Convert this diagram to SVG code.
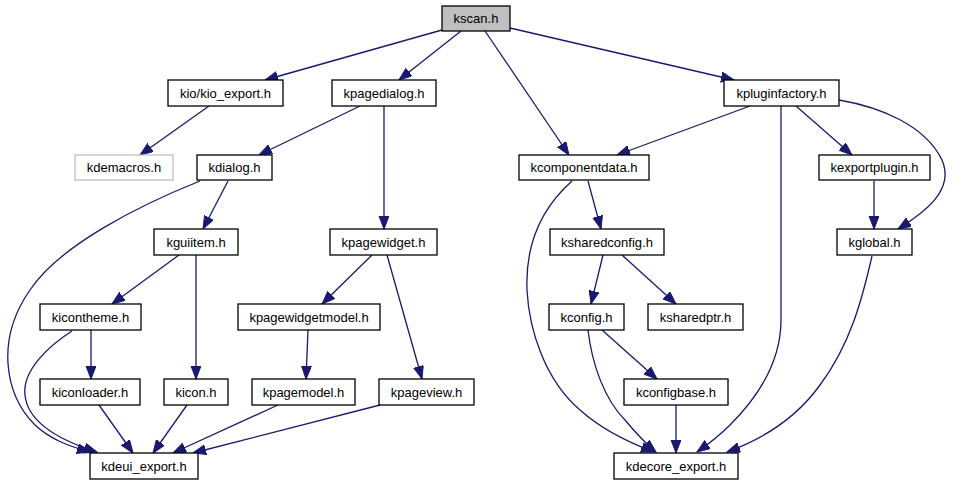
<svg xmlns="http://www.w3.org/2000/svg" width="954" height="485" viewBox="0 0 954 485">
<defs>
<style>
.n rect{fill:#fff;stroke:#000;stroke-width:1.3}
.n text{font-family:"Liberation Sans",Arial,sans-serif;font-size:13px;text-anchor:middle;fill:#000}
#edges path{fill:none;stroke:#191970;stroke-width:1.3;marker-end:url(#ah)}
</style>
<marker id="ah" markerUnits="userSpaceOnUse" markerWidth="14" markerHeight="11" refX="13" refY="5" orient="auto">
<path d="M0,0 L13,5 L0,10 Z" fill="#191970" stroke="#191970" stroke-width="1"/>
</marker>
</defs>
<rect width="954" height="485" fill="#fff"/>
<g id="edges">
<path d="M442,30 L265,80"/>
<path d="M461,31 L399,80"/>
<path d="M485,31 L569,155"/>
<path d="M510,28 L734,80"/>
<path d="M209,106 L140,155"/>
<path d="M360,106 L259,155"/>
<path d="M384,106 L384,229"/>
<path d="M228,181 L203,229"/>
<path d="M200,181 C140,205 60,245 30,290 C-5,340 5,395 35,425 C50,439 68,446 90,452"/>
<path d="M179,255 L112,304"/>
<path d="M196,255 L196,379"/>
<path d="M372,255 L322,304"/>
<path d="M387,255 L422,379"/>
<path d="M91,330 L91,379"/>
<path d="M72,331 C50,345 22,370 25,395 C28,425 65,442 97,452"/>
<path d="M99,405 L133,453"/>
<path d="M187,405 L153,453"/>
<path d="M308,330 L306,379"/>
<path d="M278,405 L173,453"/>
<path d="M380,405 L193,453"/>
<path d="M750,106 L617,155"/>
<path d="M796,106 L852,155"/>
<path d="M839,100 C880,107 925,125 942,160 C955,190 925,212 898,229"/>
<path d="M781,106 L781,320 C781,360 760,395 730,425 C720,435 710,443 697,452"/>
<path d="M588,181 L601,229"/>
<path d="M572,181 C545,205 525,240 527,290 C529,330 545,380 580,410 C600,428 630,443 654,452"/>
<path d="M874,181 L874,229"/>
<path d="M603,255 L591,304"/>
<path d="M622,255 L676,304"/>
<path d="M588,330 C592,365 605,400 625,420 C635,432 645,443 656,452"/>
<path d="M602,330 L657,379"/>
<path d="M676,405 L676,453"/>
<path d="M872,256 C862,300 850,345 820,385 C795,420 760,440 727,452"/>
</g>
<g id="kscan" class="n"><rect x="442" y="6" width="68" height="25" style="fill:#bfbfbf"/><text x="476" y="23">kscan.h</text></g>
<g id="kio_export" class="n"><rect x="168" y="80" width="115" height="26"/><text x="225.5" y="97.5">kio/kio_export.h</text></g>
<g id="kpagedialog" class="n"><rect x="332" y="80" width="104" height="26"/><text x="384" y="97.5">kpagedialog.h</text></g>
<g id="kpluginfactory" class="n"><rect x="724" y="80" width="115" height="26"/><text x="781.5" y="97.5">kpluginfactory.h</text></g>
<g id="kdemacros" class="n"><rect x="75" y="155" width="98" height="25" style="stroke:#bfbfbf"/><text x="124" y="172">kdemacros.h</text></g>
<g id="kdialog" class="n"><rect x="197" y="155" width="75" height="25"/><text x="234.5" y="172">kdialog.h</text></g>
<g id="kcomponentdata" class="n"><rect x="519" y="155" width="130" height="25"/><text x="584" y="172">kcomponentdata.h</text></g>
<g id="kexportplugin" class="n"><rect x="819" y="155" width="111" height="25"/><text x="874.5" y="172">kexportplugin.h</text></g>
<g id="kguiitem" class="n"><rect x="154" y="229" width="84" height="26"/><text x="196" y="246.5">kguiitem.h</text></g>
<g id="kpagewidget" class="n"><rect x="330" y="229" width="107" height="26"/><text x="383.5" y="246.5">kpagewidget.h</text></g>
<g id="ksharedconfig" class="n"><rect x="550" y="229" width="114" height="26"/><text x="607" y="246.5">ksharedconfig.h</text></g>
<g id="kglobal" class="n"><rect x="837" y="229" width="75" height="26"/><text x="874.5" y="246.5">kglobal.h</text></g>
<g id="kicontheme" class="n"><rect x="40" y="304" width="101" height="26"/><text x="90.5" y="321.5">kicontheme.h</text></g>
<g id="kpagewidgetmodel" class="n"><rect x="238" y="304" width="142" height="26"/><text x="309" y="321.5">kpagewidgetmodel.h</text></g>
<g id="kconfig" class="n"><rect x="549" y="304" width="75" height="26"/><text x="586.5" y="321.5">kconfig.h</text></g>
<g id="ksharedptr" class="n"><rect x="648" y="304" width="95" height="26"/><text x="695.5" y="321.5">ksharedptr.h</text></g>
<g id="kiconloader" class="n"><rect x="40" y="379" width="100" height="26"/><text x="90" y="396.5">kiconloader.h</text></g>
<g id="kicon" class="n"><rect x="164" y="379" width="64" height="26"/><text x="196" y="396.5">kicon.h</text></g>
<g id="kpagemodel" class="n"><rect x="252" y="379" width="103" height="26"/><text x="303.5" y="396.5">kpagemodel.h</text></g>
<g id="kpageview" class="n"><rect x="379" y="379" width="95" height="26"/><text x="426.5" y="396.5">kpageview.h</text></g>
<g id="kconfigbase" class="n"><rect x="624" y="379" width="104" height="26"/><text x="676" y="396.5">kconfigbase.h</text></g>
<g id="kdeui_export" class="n"><rect x="90" y="453" width="108" height="26"/><text x="144" y="470.5">kdeui_export.h</text></g>
<g id="kdecore_export" class="n"><rect x="614" y="453" width="124" height="26"/><text x="676" y="470.5">kdecore_export.h</text></g>
</svg>
